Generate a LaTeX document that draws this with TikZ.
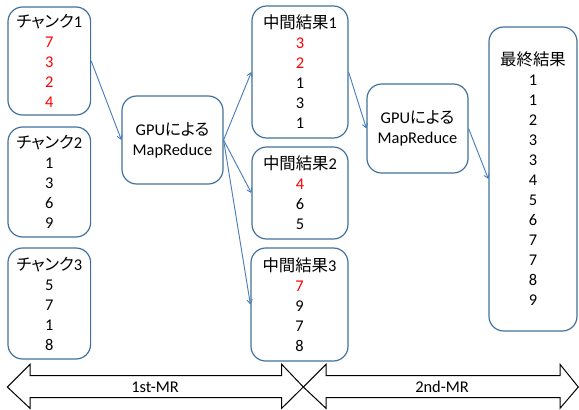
\documentclass[tikz,border=0pt]{standalone}
\usepackage{fontspec}
\setmainfont{Carlito}
\newfontfamily\jp{Noto Sans CJK JP}[RawFeature=+palt]
\usetikzlibrary{arrows.meta}
\definecolor{boxblue}{HTML}{41719C}
\definecolor{connblue}{HTML}{4A7EBB}
\definecolor{numred}{HTML}{FF0000}
\newcommand{\rd}[1]{\textcolor{numred}{#1}}
\tikzset{
  databox/.style={draw=boxblue, line width=0.9pt, rounded corners=11pt, fill=white,
    align=center, inner sep=0pt, font=\fontsize{12.3}{15}\selectfont},
  conn/.style={draw=connblue, line width=0.7pt, -{Straight Barb[length=3pt,width=4pt]}},
  phase/.style={draw=black, line width=0.75pt, fill=white},
  phaselabel/.style={inner sep=0pt, font=\fontsize{12.3}{15}\selectfont}
}
\begin{document}
\begin{tikzpicture}[x=0.75pt,y=-0.75pt]
\useasboundingbox (0,0) rectangle (579,410);
% chunks
\node[databox, minimum width=62pt, minimum height=81pt] (c1) at (49.3,61)
  {{\jp チャンク}1\\\rd{7}\\\rd{3}\\\rd{2}\\\rd{4}};
\node[databox, minimum width=62pt, minimum height=82.5pt] (c2) at (49.3,182)
  {{\jp チャンク}2\\1\\3\\6\\9};
\node[databox, minimum width=62pt, minimum height=83.25pt] (c3) at (49.3,303.5)
  {{\jp チャンク}3\\5\\7\\1\\8};
% first GPU MapReduce
\node[databox, minimum width=75.75pt, minimum height=66pt] (g1) at (172.5,140)
  {GPU{\jp による}\\MapReduce};
% intermediate results
\node[databox, minimum width=72pt, minimum height=99pt] (i1) at (300,72)
  {{\jp 中間結果}1\\\rd{3}\\\rd{2}\\1\\3\\1};
\node[databox, minimum width=72pt, minimum height=69pt] (i2) at (300,193)
  {{\jp 中間結果}2\\\rd{4}\\6\\5};
\node[databox, minimum width=72.75pt, minimum height=84.75pt] (i3) at (299.5,304.5)
  {{\jp 中間結果}3\\\rd{7}\\9\\7\\8};
% second GPU MapReduce
\node[databox, minimum width=75.75pt, minimum height=66.75pt] (g2) at (417.5,128.5)
  {GPU{\jp による}\\MapReduce};
% final result
\node[databox, minimum width=66pt, minimum height=228pt] (f) at (533,179)
  {{\jp 最終結果}\\1\\1\\2\\3\\3\\4\\5\\6\\7\\7\\8\\9};
% connectors
\draw[conn] (c1.east) -- (g1.west);
\draw[conn] (g1.east) -- (i1.west);
\draw[conn] (g1.east) -- (i2.west);
\draw[conn] (g1.east) -- (i3.west);
\draw[conn] (i1.east) -- (g2.west);
\draw[conn] (g2.east) -- (f.west);
% phase arrows
\draw[phase] (7.3,387) -- (30,364.3) -- (30,375.7) -- (281.7,375.7) -- (281.7,364.3)
  -- (303.3,387) -- (281.7,408.3) -- (281.7,397.7) -- (30,397.7) -- (30,408.3) -- cycle;
\draw[phase] (303.3,387) -- (326,364.3) -- (326,375.7) -- (560,375.7) -- (560,364.3)
  -- (578.3,387) -- (560,408.3) -- (560,397.7) -- (326,397.7) -- (326,408.3) -- cycle;
\node[phaselabel] (p1) at (155,387) {1st-MR};
\node[phaselabel] (p2) at (442,387) {2nd-MR};
\end{tikzpicture}
\end{document}
